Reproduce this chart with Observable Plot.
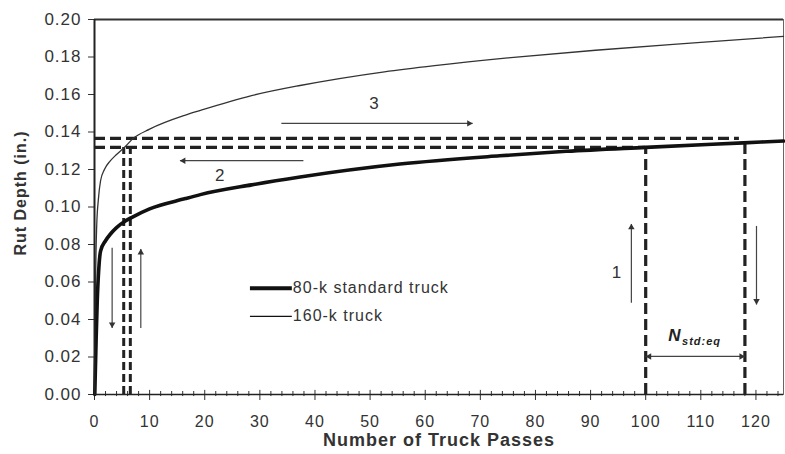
<!DOCTYPE html>
<html><head><meta charset="utf-8">
<script src="https://cdn.jsdelivr.net/npm/d3@7"></script>
<script src="https://cdn.jsdelivr.net/npm/@observablehq/plot@0.6"></script>
<style>
html,body{margin:0;padding:0;background:#fff;}
#chart svg text{letter-spacing:1px;}
#chart svg g[aria-label="ylabel"] text{letter-spacing:0;}
</style></head><body><div id="chart"></div>
<script>
// ---- data ----
const seriesNames = ["80-k standard truck", "160-k truck"];
const passes80 = [0.05, 0.3, 0.5, 0.8, 1.1, 2, 2.9, 4, 5.6, 6.8, 10, 16.5, 19.2, 28.5, 37.3, 55.4, 73.5, 85.6, 100, 117.7, 125];
const rut80    = [0, 0.03, 0.05, 0.068, 0.0765, 0.082, 0.0856, 0.089, 0.0925, 0.0945, 0.0990, 0.1045, 0.1066, 0.1118, 0.1160, 0.1229, 0.1273, 0.1297, 0.1318, 0.1342, 0.1352];
const passes160 = [0.1, 0.2, 0.4, 0.7, 1.1, 1.8, 2.9, 4, 5.5, 7, 10, 16.5, 19.2, 28.5, 37.3, 52.6, 61.7, 75, 90.9, 110, 125];
const rut160    = [0, 0.06, 0.09, 0.104, 0.114, 0.12, 0.1247, 0.128, 0.132, 0.1365, 0.1415, 0.1490, 0.1515, 0.1594, 0.1648, 0.1721, 0.1754, 0.1795, 0.1836, 0.1878, 0.191];
const xTicks = [0, 10, 20, 30, 40, 50, 60, 70, 80, 90, 100, 110, 120];
const xMinorTicks = [2,4,6,8,12,14,16,18,22,24,26,28,32,34,36,38,42,44,46,48,52,54,56,58,62,64,66,68,72,74,76,78,82,84,86,88,92,94,96,98,102,104,106,108,112,114,116,118,122,124];
const yTicks = [0, 0.02, 0.04, 0.06, 0.08, 0.10, 0.12, 0.14, 0.16, 0.18, 0.20];
// equivalence construction (passes / rut depth)
const hGuides = [{y: 0.1366, x1: 0, x2: 117}, {y: 0.1318, x1: 0, x2: 100}];
const vGuidesLeft = [{x: 5.3, y1: 0, y2: 0.1318}, {x: 6.5, y1: 0, y2: 0.1318}];
const vGuidesRight = [{x: 100, y1: 0, y2: 0.1318}, {x: 118, y1: 0, y2: 0.1342}];
const arrows = [
  {x1: 97.4, y1: 0.0489, x2: 97.4, y2: 0.091},
  {x1: 120.1, y1: 0.0899, x2: 120.1, y2: 0.048},
  {x1: 3.2, y1: 0.0783, x2: 3.2, y2: 0.0355},
  {x1: 8.4, y1: 0.0355, x2: 8.4, y2: 0.0776},
  {x1: 37.9, y1: 0.1247, x2: 15.5, y2: 0.1247},
  {x1: 33.9, y1: 0.1446, x2: 68.6, y2: 0.1446},
  {x1: 100, y1: 0.0203, x2: 118, y2: 0.0203, both: true}
];
const stepLabels = [
  {x: 94.8, y: 0.0649, text: "1"},
  {x: 22.8, y: 0.1166, text: "2"},
  {x: 50.8, y: 0.1551, text: "3"}
];
const xLabel = "Number of Truck Passes";
const yLabel = "Rut Depth (in.)";

// ---- build ----
const s80 = passes80.map((x, i) => ({x, y: rut80[i]}));
const s160 = passes160.map((x, i) => ({x, y: rut160[i]}));
const legendRows = [
  {name: seriesNames[0], x1: 28.2, x2: 35.8, y: 0.0567, w: 4},
  {name: seriesNames[1], x1: 28.2, x2: 35.8, y: 0.0417, w: 1.2}
];
const opposite = {up: "down", down: "up", left: "right", right: "left"};
const heads = [];
for (const a of arrows) {
  const d = a.x1 === a.x2 ? (a.y2 > a.y1 ? "up" : "down") : (a.x2 > a.x1 ? "right" : "left");
  heads.push({x: a.x2, y: a.y2, dir: d});
  if (a.both) heads.push({x: a.x1, y: a.y1, dir: opposite[d]});
}
const tip = 3.6;
const dirs = {up: [0, 0, 1], down: [180, 0, -1], left: [270, 1, 0], right: [90, -1, 0]};
const headMarks = Object.entries(dirs).map(([d, [rot, ddx, ddy]]) =>
  Plot.dot(heads.filter(h => h.dir === d), {x: "x", y: "y", symbol: "triangle", r: 2.4, fill: "#333", stroke: "none", rotate: rot, dx: ddx * tip, dy: ddy * tip}));

const ink = "#222";
const chart = Plot.plot({
  width: 785, height: 454,
  marginLeft: 94, marginRight: 2, marginTop: 19, marginBottom: 60,
  x: {domain: [0, 125]},
  y: {domain: [0, 0.2]},
  style: {fontFamily: "'Liberation Sans', Arial, sans-serif", fontSize: "17px", color: "#333", background: "#fff"},
  marks: [
    Plot.frame({stroke: "#666", strokeWidth: 1}),
    Plot.ruleY([0.2], {stroke: "#333", strokeWidth: 2}),
    Plot.axisY(yTicks, {tickFormat: d3.format(".2f"), tickSize: 6, tickPadding: 7, label: null, stroke: "#333"}),
    Plot.axisX(xTicks, {tickFormat: d => d, tickSize: 6, tickPadding: 15, label: null, stroke: "#333", fontSize: 16}),
    Plot.ruleX(xTicks, {y1: 0, y2: 0.0022, stroke: "#333", strokeWidth: 1}),
    Plot.ruleX(xMinorTicks, {y1: -0.0011, y2: 0.0016, stroke: "#333", strokeWidth: 1}),
    // dashed construction lines
    Plot.ruleY(hGuides, {y: "y", x1: "x1", x2: "x2", stroke: ink, strokeWidth: 3.2, strokeDasharray: "11,5"}),
    Plot.ruleX(vGuidesLeft, {x: "x", y1: "y1", y2: "y2", stroke: ink, strokeWidth: 3, strokeDasharray: "8,4"}),
    Plot.ruleX(vGuidesRight, {x: "x", y1: "y1", y2: "y2", stroke: ink, strokeWidth: 3.2, strokeDasharray: "11,5"}),
    // curves
    Plot.line(s160, {x: "x", y: "y", stroke: "#333", strokeWidth: 1.3, curve: "monotone-x"}),
    Plot.line(s80, {x: "x", y: "y", stroke: "#111", strokeWidth: 3.6, curve: "monotone-x"}),
    // axes lines
    Plot.ruleX([0], {stroke: "#222", strokeWidth: 2}),
    Plot.ruleY([0], {stroke: "#222", strokeWidth: 1.5}),
    // arrows
    Plot.link(arrows, {x1: "x1", y1: "y1", x2: "x2", y2: "y2", stroke: "#444", strokeWidth: 1.2}),
    ...headMarks,
    Plot.text(stepLabels, {x: "x", y: "y", text: "text", fontSize: 17, fill: "#333"}),
    Plot.text(["N"], {x: 106.5, y: 0.0316, text: d => d, textAnchor: "end", fontWeight: "bold", fontStyle: "italic", fontSize: 17, fill: "#222"}),
    Plot.text(["std:eq"], {x: 106.6, y: 0.0282, text: d => d, textAnchor: "start", fontWeight: "bold", fontStyle: "italic", fontSize: 11, fill: "#222"}),
    // legend
    Plot.link(legendRows, {x1: "x1", x2: "x2", y1: "y", y2: "y", stroke: "#111", strokeWidth: "w"}),
    Plot.text(legendRows, {x: "x2", y: "y", text: "name", textAnchor: "start", dx: 1, fontSize: 16, fill: "#333"}),
    // axis titles
    Plot.text([xLabel], {frameAnchor: "bottom", lineAnchor: "middle", textAnchor: "middle", dy: 46, text: d => d, fontWeight: "bold", fontSize: 18, fill: "#333"}),
    Plot.text([yLabel], {frameAnchor: "left", lineAnchor: "middle", textAnchor: "middle", dx: -74, dy: -14, rotate: -90, text: d => d, fontWeight: "bold", fontSize: 16, fill: "#333", ariaLabel: "ylabel"})
  ]
});
document.getElementById("chart").appendChild(chart);
</script></body></html>
